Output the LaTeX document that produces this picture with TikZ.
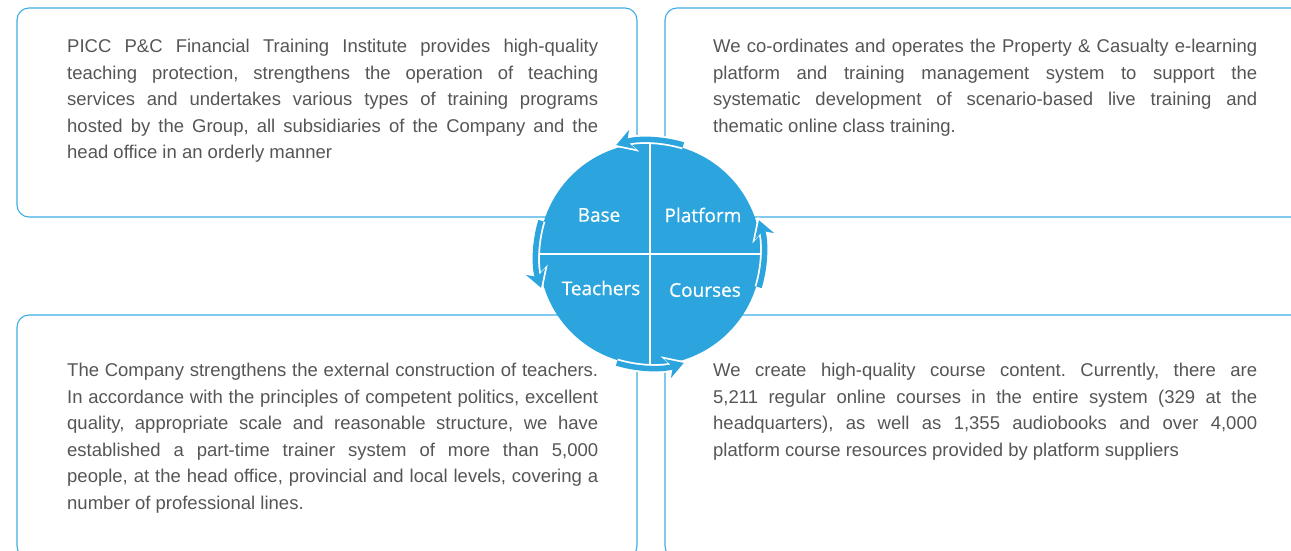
\documentclass[tikz,border=0pt]{standalone}
\usepackage{fontspec}
\setmainfont{Liberation Sans}
\newfontfamily\wheelfont[FakeBold=0.6]{Open Sans}
\usetikzlibrary{calc, arrows.meta}
\definecolor{wheelBlue}{RGB}{44, 165, 222}
\definecolor{panelLine}{RGB}{62, 172, 228}
\definecolor{bodyText}{RGB}{85, 85, 85}
\frenchspacing

\begin{document}
\begin{tikzpicture}[x=1pt, y=1pt, >=Stealth,
  panel/.style={draw=panelLine, line width=1.1pt, rounded corners=12pt},
  blurb/.style={anchor=north west, inner sep=0pt, text=bodyText, align=justify,
    font=\fontsize{18.5}{26.5}\selectfont,
    execute at begin node={\hyphenpenalty=10000 }},
  quad/.style={text=white, inner sep=0pt, font=\wheelfont\fontsize{19}{21}\selectfont}]
  \useasboundingbox (0,0) rectangle (1291,550);
  \clip (0,0) rectangle (1291,550);
  \def\rr{111}
  \coordinate (hub) at (650,296);

  % Four panels
  \draw[panel] (17,333) rectangle (637,542);
  \draw[panel] (665,333) rectangle (1320,542);
  \draw[panel] (17,-8) rectangle (637,235);
  \draw[panel] (665,-8) rectangle (1320,235);

  \node[blurb, text width=531pt] (baseText) at (67,511)
    {PICC P\&C Financial Training Institute provides high-quality\linebreak
     teaching protection, strengthens the operation of teaching\linebreak
     services and undertakes various types of training programs\linebreak
     hosted by the Group, all subsidiaries of the Company and the\linebreak
     head office in an orderly manner};
  \node[blurb, text width=544pt] (platformText) at (713,511)
    {We co-ordinates and operates the Property \& Casualty e-learning\linebreak
     platform and training management system to support the\linebreak
     systematic development of scenario-based live training and\linebreak
     thematic online class training.};
  \node[blurb, text width=531pt] (teachersText) at (67,187)
    {The Company strengthens the external construction of teachers.\linebreak
     In accordance with the principles of competent politics, excellent\linebreak
     quality, appropriate scale and reasonable structure, we have\linebreak
     established a part-time trainer system of more than 5,000\linebreak
     people, at the head office, provincial and local levels, covering a\linebreak
     number of professional lines.};
  \node[blurb, text width=544pt] (coursesText) at (713,187)
    {We create high-quality course content. Currently, there are\linebreak
     5,211 regular online courses in the entire system (329 at the\linebreak
     headquarters), as well as 1,355 audiobooks and over 4,000\linebreak
     platform course resources provided by platform suppliers};

  % Wheel
  \fill[wheelBlue] (hub) circle (\rr);
  \draw[white, line width=1.2pt] ($(hub)+(0,\rr)$) -- ($(hub)-(0,\rr)$);
  \draw[white, line width=1.2pt] ($(hub)-(\rr,0)$) -- ($(hub)+(\rr,0)$);

  % Cycle arrows on the rim
  \foreach \a in {73,163,253,343}{
    \draw[white, line width=9pt, -{Stealth[length=23pt, width=27pt]}]
      ($(hub)+(\a:114)$) arc (\a:\a+36:114);
    \draw[wheelBlue, line width=5.5pt, shorten >=3.5pt, -{Stealth[length=17pt, width=20pt]}]
      ($(hub)+(\a:114)$) arc (\a:\a+36:114);
  }

  \node[quad] (base) at (599,335) {Base};
  \node[quad] (platform) at (703,335) {Platform};
  \node[quad] (teachers) at (601,262) {Teachers};
  \node[quad] (courses) at (705,260) {Courses};
\end{tikzpicture}
\end{document}
